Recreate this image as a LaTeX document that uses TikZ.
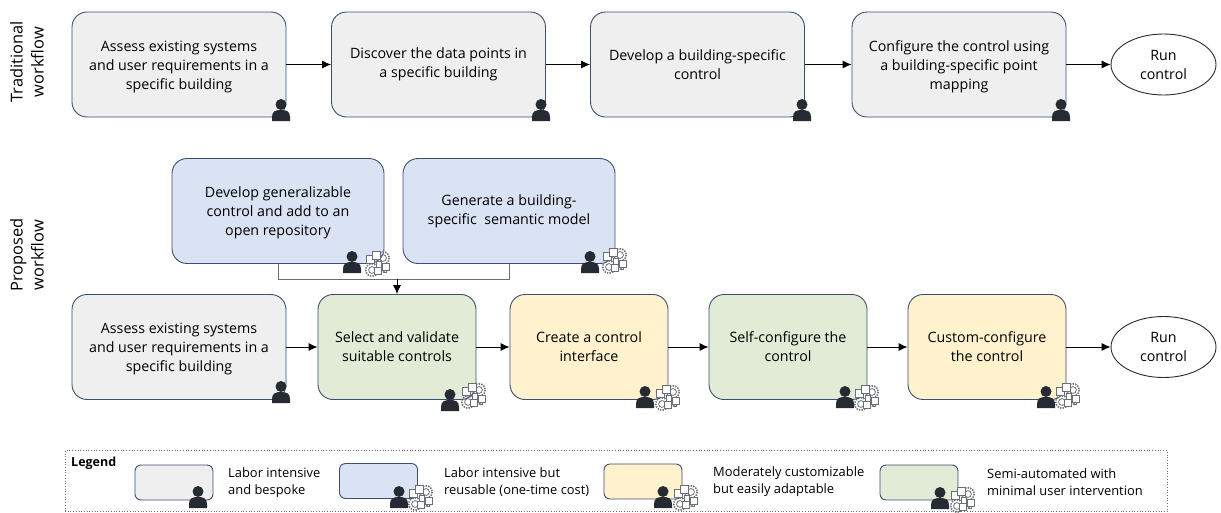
\documentclass[tikz,border=0pt]{standalone}
\usepackage{fontspec}
\setmainfont{Open Sans}
\usetikzlibrary{arrows.meta,shapes.geometric}

\definecolor{edgeblue}{HTML}{3B4F73}
\definecolor{fillgrey}{HTML}{EFEFEF}
\definecolor{fillblue}{HTML}{DAE3F3}
\definecolor{fillyellow}{HTML}{FFF2CC}
\definecolor{fillgreen}{HTML}{E2EBD6}
\definecolor{icondark}{HTML}{262B33}
\definecolor{icongrey}{HTML}{6A6F73}

\newcommand{\lowertext}{\rule{0pt}{15pt}}

\tikzset{
  stepbox/.style={draw=edgeblue,line width=.9pt,rounded corners=15pt,align=center,inner sep=0pt,
    minimum height=105pt,font=\fontsize{14.25}{19}\selectfont},
  wide/.style={stepbox,minimum width=214pt},
  narrow/.style={stepbox,minimum width=158pt},
  keybox/.style={draw=edgeblue,line width=.9pt,rounded corners=6pt,inner sep=0pt,
    minimum width=78pt,minimum height=35pt},
  keytext/.style={align=left,anchor=west,inner sep=0pt,font=\fontsize{12.9}{17}\selectfont},
  endnode/.style={draw=icondark,line width=.9pt,ellipse,align=center,inner sep=0pt,
    minimum width=105pt,minimum height=61pt,font=\fontsize{14.25}{19}\selectfont},
  sidelabel/.style={rotate=90,align=center,inner sep=0pt,font=\fontsize{16.4}{21}\selectfont},
  flow/.style={-{Latex[length=9pt,width=8pt]},line width=.9pt,black},
  person/.pic={
    \fill[icondark] (0,-5.5) circle (5.5);
    \fill[icondark] (-9,11) -- (-9,7) .. controls (-9,1) and (-5,0) .. (0,0)
      .. controls (5,0) and (9,1) .. (9,7) -- (9,11) -- cycle;
  },
  autoicon/.pic={
    \begin{scope}[draw=icongrey,line width=.8pt,fill=white]
      \draw[line width=1.6pt,dash pattern=on 1.4pt off 1.2pt] (5,-5) circle (6.2);
      \draw (5,-5) circle (3.4);
      \draw[line width=1.6pt,dash pattern=on 1.4pt off 1.2pt] (-6,7) circle (6.2);
      \draw (-6,7) circle (3.4);
      \filldraw (-12,-8) rectangle (-4,0);
      \filldraw (-5.5,-12) rectangle (2.5,-4);
      \filldraw (-2,-2) rectangle (3,4);
      \filldraw (-4,4) rectangle (3,11);
      \filldraw (4.5,0) rectangle (11.5,7);
      \draw[-{Latex[length=2.5pt,width=2.5pt]}] (8,7) -- (8,9) -- (4,9);
    \end{scope}
  }
}

\begin{document}
\begin{tikzpicture}[x=1pt,y=-1pt]
  \useasboundingbox (0,0) rectangle (1221,512);

  \node[sidelabel] (T) at (27,62) {Traditional\\workflow};
  \node[sidelabel] (P) at (27,255) {Proposed\\workflow};

  % top row
  \node[wide,fill=fillgrey] (A1) at (179,64.5) {\lowertext Assess existing systems\\and user requirements in a\\specific building};
  \node[wide,fill=fillgrey] (A2) at (438.5,64.5) {Discover the data points in\\a specific building};
  \node[wide,fill=fillgrey] (A3) at (697.5,64.5) {Develop a building-specific\\control};
  \node[wide,fill=fillgrey] (A4) at (959,64.5) {\lowertext Configure the control using\\a building-specific point\\mapping};
  \node[endnode] (A5) at (1163.5,64.5) {Run\\control};

  % reusable steps
  \node[wide,fill=fillblue,minimum width=212pt] (B1) at (278,211) {\lowertext Develop generalizable\\control and add to an\\open repository};
  \node[wide,fill=fillblue,minimum width=212pt] (B2) at (509,211) {Generate a building-\\specific\ \ semantic model};

  % bottom row
  \node[wide,fill=fillgrey] (C1) at (179,347) {\lowertext Assess existing systems\\and user requirements in a\\specific building};
  \node[narrow,fill=fillgreen] (C2) at (397,347) {Select and validate\\suitable controls};
  \node[narrow,fill=fillyellow] (C3) at (589,347) {Create a control\\interface};
  \node[narrow,fill=fillgreen] (C4) at (788,347) {Self-configure the\\control};
  \node[narrow,fill=fillyellow] (C5) at (987,347) {Custom-configure\\the control};
  \node[endnode] (C6) at (1163.5,347) {Run\\control};

  \coordinate (J) at (397,279);

  \draw[flow] (A1) -- (A2);
  \draw[flow] (A2) -- (A3);
  \draw[flow] (A3) -- (A4);
  \draw[flow] (A4) -- (A5);
  \draw[line width=.9pt,icongrey] (B1.south) |- (J);
  \draw[line width=.9pt,icongrey] (B2.south) |- (J);
  \draw[flow] (J) -- (C2.north);
  \draw[flow] (C1) -- (C2);
  \draw[flow] (C2) -- (C3);
  \draw[flow] (C3) -- (C4);
  \draw[flow] (C4) -- (C5);
  \draw[flow] (C5) -- (C6);

  % icons
  \path (281,110) pic {person};
  \path (541,110) pic {person};
  \path (802,110) pic {person};
  \path (1061,110) pic {person};
  \path (281,392) pic {person};
  \path (352,262) pic {person};
  \path (378,263) pic {autoicon};
  \path (590,262) pic {person};
  \path (615,260) pic {autoicon};
  \path (450,400) pic {person};
  \path (474,395) pic {autoicon};
  \path (645,397) pic {person};
  \path (668,397) pic {autoicon};
  \path (845,397) pic {person};
  \path (867,397) pic {autoicon};
  \path (1046,397) pic {person};
  \path (1068,395) pic {autoicon};

  % legend
  \node[draw=icongrey,dotted,line width=.7pt,inner sep=0pt,minimum width=1102pt,minimum height=61pt] (L) at (616,481) {};
  \node[anchor=north west,inner sep=0pt,font=\fontsize{12.5}{14}\selectfont\bfseries] (L0) at (71,457) {Legend};

  \node[keybox,fill=fillgrey] (K1) at (174,482.5) {};
  \node[keytext] (K1t) at (228,482.5) {Labor intensive\\and bespoke};
  \node[keybox,fill=fillblue] (K2) at (378.5,481) {};
  \node[keytext] (K2t) at (444,482) {Labor intensive but\\reusable (one-time cost)};
  \node[keybox,fill=fillyellow] (K3) at (643,481.5) {};
  \node[keytext] (K3t) at (713,482) {Moderately customizable\\but easily adaptable};
  \node[keybox,fill=fillgreen] (K4) at (919,482.5) {};
  \node[keytext] (K4t) at (987,482) {Semi-automated with\\minimal user intervention};

  \path (198,497) pic {person};
  \path (399,497) pic {person};
  \path (421,497) pic {autoicon};
  \path (663,497) pic {person};
  \path (686,497) pic {autoicon};
  \path (940,498) pic {person};
  \path (963,499) pic {autoicon};
\end{tikzpicture}
\end{document}
